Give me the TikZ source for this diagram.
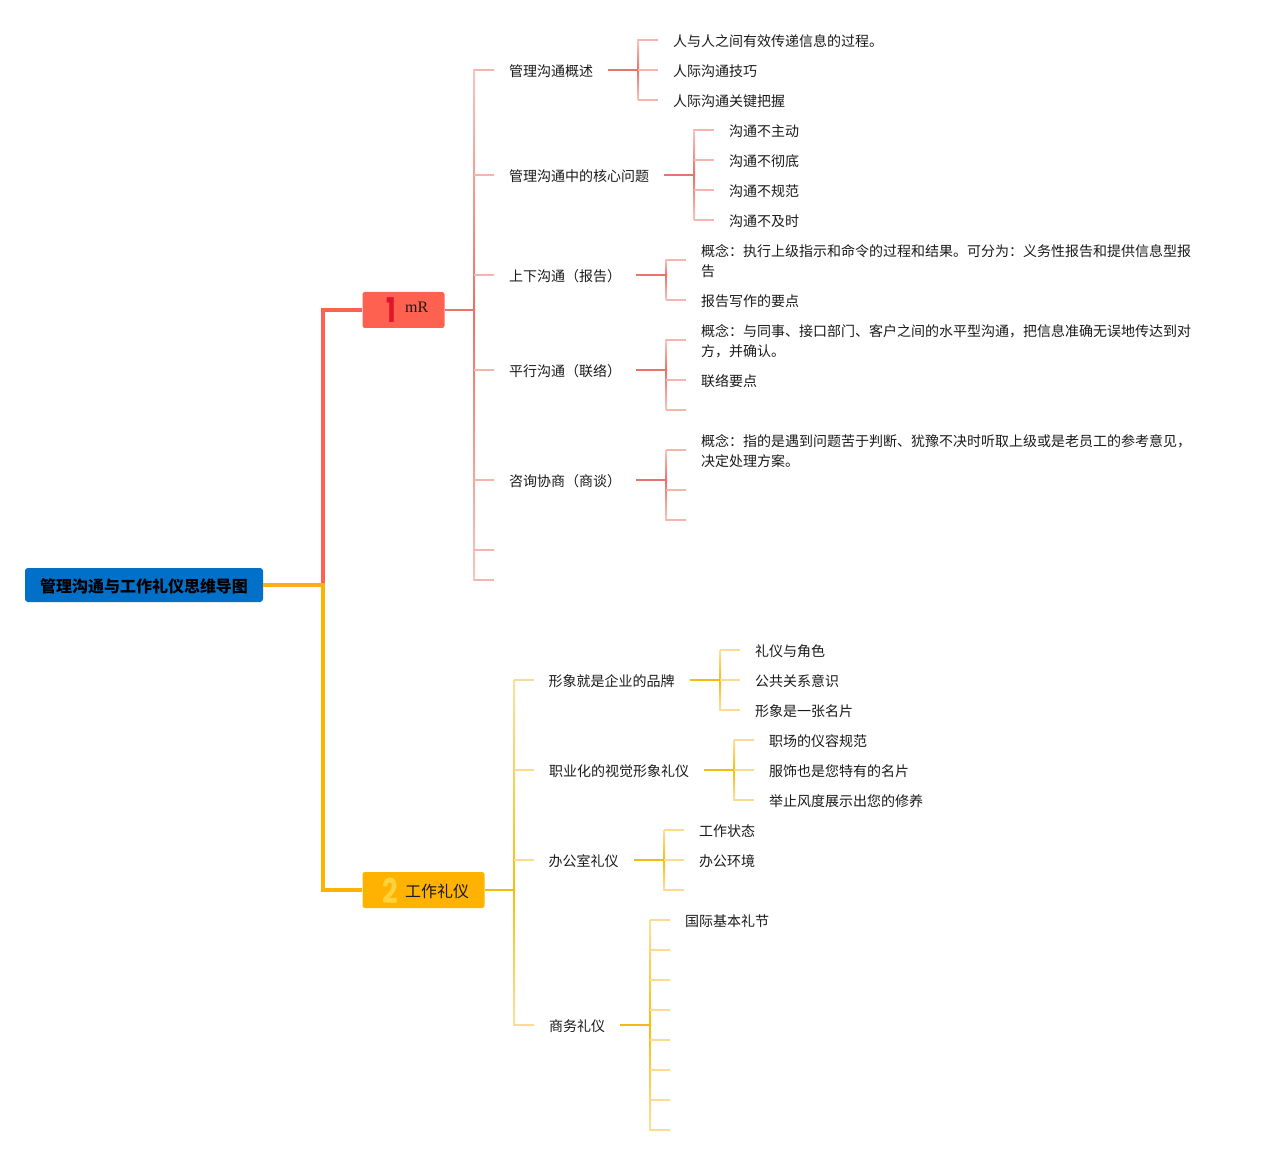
\documentclass[tikz,border=0pt]{standalone}
\usepackage{graphicx}
\usepackage{fontspec}
\setmainfont{Noto Sans CJK SC}
\newfontfamily\latinserif{Liberation Serif}
\newfontfamily\digitfont{Poppins}[BoldFont={Poppins Bold}]
\definecolor{rmain}{HTML}{FF6150}
\definecolor{rmid}{HTML}{E4736A}
\definecolor{rend}{HTML}{F6C6BF}
\definecolor{rstub}{HTML}{F5B5AD}
\definecolor{rlink}{HTML}{E8746B}
\definecolor{rdigit}{HTML}{E0142A}
\definecolor{ymain}{HTML}{FFB300}
\definecolor{ymid}{HTML}{F7BC14}
\definecolor{yend}{HTML}{FBE0A3}
\definecolor{ystub}{HTML}{FBDB90}
\definecolor{ylink}{HTML}{F6BA14}
\definecolor{ydigit}{HTML}{FFD33D}
\definecolor{rootblue}{HTML}{0070C8}
\definecolor{rootlink}{HTML}{FFAE1A}
\definecolor{txt}{HTML}{1A1A1A}
\tikzset{
  x=1pt,y=-1pt,
  item/.style={anchor=west,inner xsep=15pt,inner ysep=0pt,text=txt,align=left,
    font=\fontsize{14}{20}\selectfont,text height=14pt,text depth=0.4pt},
  twoline/.style={item,text height=34pt},
  rstubline/.style={draw=rstub,line width=2pt},
  ystubline/.style={draw=ystub,line width=2pt},
  rlinkline/.style={draw=rlink,line width=2pt},
  ylinkline/.style={draw=ylink,line width=2pt},
  rootbox/.style={fill=rootblue,rounded corners=3pt,minimum width=238pt,minimum height=34pt,inner sep=0pt,
    font=\fontsize{16}{20}\selectfont\bfseries,text=black,text height=14.2pt,text depth=0pt},
  topicbox/.style={rounded corners=2.5pt,minimum height=36pt,inner sep=0pt},
  digit/.style={inner sep=0pt,font=\digitfont\bfseries\fontsize{34}{34}\selectfont},
  toptext/.style={anchor=west,inner sep=0pt,text=txt,font=\fontsize{16}{20}\selectfont},
}
% family, stem coordinate, parent, first child, last child, child list
\newcommand{\brk}[6]{%
  \shade[top color=#1end,bottom color=#1mid] ([xshift=-1pt]#2 |- #4.west) rectangle ([xshift=1pt]#2);
  \shade[top color=#1mid,bottom color=#1end] ([xshift=-1pt]#2) rectangle ([xshift=1pt]#2 |- #5.west);
  \foreach \c in {#6} {\draw[#1stubline] (#2 |- \c.west) -- (\c.west);}
  \draw[#1linkline] (#3.east) -- (#2);
}
\begin{document}
\begin{tikzpicture}
\useasboundingbox (0,0) rectangle (1261,1155);
% root and topics
\node[rootbox] (root) at (144,585) {管理沟通与工作礼仪思维导图};
\node[topicbox,fill=rmain,minimum width=82pt] (mr) at (403.5,310) {};
\node[topicbox,fill=ymain,minimum width=122pt] (wk) at (423.5,890) {};
\node[digit,text=rdigit] (n1) at (391,310) {\scalebox{0.75}[1]{1}};
\node[toptext] (mrt) at (405,307) {\latinserif mR};
\node[digit,text=ydigit] (n2) at (390.5,891) {\scalebox{0.8}[1]{2}};
\node[toptext] (wkt) at (405,891) {工作礼仪};
\coordinate (j) at (323,585);
\draw[rmain,line width=4.6pt] (j) |- (mr.west);
\draw[ymain,line width=4.6pt] (j) |- (wk.west);
\draw[rootlink,line width=4.8pt] (root.east) -- ([xshift=2pt]j);
% red branch level 2
\node[item] (a1) at (494,70) {管理沟通概述};
\node[item] (a2) at (494,175) {管理沟通中的核心问题};
\node[item] (a3) at (494,275) {上下沟通（报告）};
\node[item] (a4) at (494,370) {平行沟通（联络）};
\node[item] (a5) at (494,480) {咨询协商（商谈）};
\coordinate (a6) at (494,550);
\coordinate (a7) at (494,580);
\coordinate (sa) at (474,310);
\shade[top color=rend,bottom color=rmid] ([xshift=-1pt]sa |- a1.west) rectangle ([xshift=1pt]sa);
\shade[top color=rmid,bottom color=rend] ([xshift=-1pt]sa) rectangle ([xshift=1pt]sa |- a7);
\foreach \c in {a1,a2,a3,a4,a5} {\draw[rstubline] (sa |- \c.west) -- (\c.west);}
\foreach \c in {a6,a7} {\draw[rstubline] (sa |- \c) -- (\c);}
\draw[rlinkline] (mr.east) -- (sa);
% red branch level 3
\node[item] (a11) at (658,40) {人与人之间有效传递信息的过程。};
\node[item] (a12) at (658,70) {人际沟通技巧};
\node[item] (a13) at (658,100) {人际沟通关键把握};
\coordinate (s1) at (638,70);
\brk{r}{s1}{a1}{a11}{a13}{a11,a12,a13}
\node[item] (a21) at (714,130) {沟通不主动};
\node[item] (a22) at (714,160) {沟通不彻底};
\node[item] (a23) at (714,190) {沟通不规范};
\node[item] (a24) at (714,220) {沟通不及时};
\coordinate (s2) at (694,175);
\brk{r}{s2}{a2}{a21}{a24}{a21,a22,a23,a24}
\node[twoline] (a31) at (686,260) {概念：执行上级指示和命令的过程和结果。可分为：义务性报告和提供信息型报\\告};
\node[item] (a32) at (686,300) {报告写作的要点};
\coordinate (s3) at (666,275);
\brk{r}{s3}{a3}{a31}{a32}{a31,a32}
\node[twoline] (a41) at (686,340) {概念：与同事、接口部门、客户之间的水平型沟通，把信息准确无误地传达到对\\方，并确认。};
\node[item] (a42) at (686,380) {联络要点};
\node[item] (a43) at (686,410) {};
\coordinate (s4) at (666,370);
\brk{r}{s4}{a4}{a41}{a43}{a41,a42,a43}
\node[twoline] (a51) at (686,450) {概念：指的是遇到问题苦于判断、犹豫不决时听取上级或是老员工的参考意见，\\决定处理方案。};
\node[item] (a52) at (686,490) {};
\node[item] (a53) at (686,520) {};
\coordinate (s5) at (666,480);
\brk{r}{s5}{a5}{a51}{a53}{a51,a52,a53}
% yellow branch level 2
\node[item] (b1) at (533.5,680) {形象就是企业的品牌};
\node[item] (b2) at (534,770) {职业化的视觉形象礼仪};
\node[item] (b3) at (533.5,860) {办公室礼仪};
\node[item] (b4) at (534,1025) {商务礼仪};
\coordinate (sb) at (514,890);
\shade[top color=yend,bottom color=ymid] ([xshift=-1pt]sb |- b1.west) rectangle ([xshift=1pt]sb);
\shade[top color=ymid,bottom color=yend] ([xshift=-1pt]sb) rectangle ([xshift=1pt]sb |- b4.west);
\foreach \c in {b1,b2,b3,b4} {\draw[ystubline] (sb |- \c.west) -- (\c.west);}
\draw[ylinkline] (wk.east) -- (sb);
% yellow branch level 3
\node[item] (b11) at (740,650) {礼仪与角色};
\node[item] (b12) at (740,680) {公共关系意识};
\node[item] (b13) at (740,710) {形象是一张名片};
\coordinate (t1) at (720,680);
\brk{y}{t1}{b1}{b11}{b13}{b11,b12,b13}
\node[item] (b21) at (754,740) {职场的仪容规范};
\node[item] (b22) at (754,770) {服饰也是您特有的名片};
\node[item] (b23) at (754,800) {举止风度展示出您的修养};
\coordinate (t2) at (734,770);
\brk{y}{t2}{b2}{b21}{b23}{b21,b22,b23}
\node[item] (b31) at (684,830) {工作状态};
\node[item] (b32) at (684,860) {办公环境};
\node[item] (b33) at (684,890) {};
\coordinate (t3) at (664,860);
\brk{y}{t3}{b3}{b31}{b33}{b31,b32,b33}
\node[item] (b41) at (670,920) {国际基本礼节};
\node[item] (b42) at (670,950) {};
\node[item] (b43) at (670,980) {};
\node[item] (b44) at (670,1010) {};
\node[item] (b45) at (670,1040) {};
\node[item] (b46) at (670,1070) {};
\node[item] (b47) at (670,1100) {};
\node[item] (b48) at (670,1130) {};
\coordinate (t4) at (650,1025);
\brk{y}{t4}{b4}{b41}{b48}{b41,b42,b43,b44,b45,b46,b47,b48}
\end{tikzpicture}
\end{document}
